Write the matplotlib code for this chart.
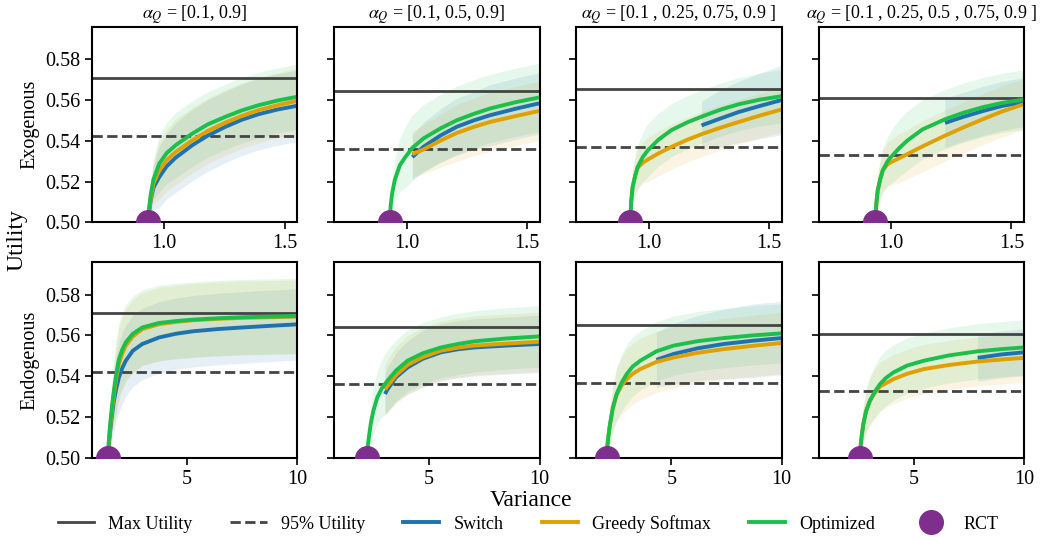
import numpy as np
import matplotlib
matplotlib.use("Agg")
import matplotlib.pyplot as plt
from matplotlib.lines import Line2D

plt.rcParams['font.family'] = ['Liberation Serif', 'DejaVu Serif']
plt.rcParams['mathtext.fontset'] = 'stix'
plt.rcParams['axes.linewidth'] = 1.5
plt.rcParams['xtick.major.width'] = 1.2
plt.rcParams['ytick.major.width'] = 1.2

nan = np.nan

# panel titles (alpha_Q sets)
titles = ["[0.1, 0.9]", "[0.1, 0.5, 0.9]",
          "[0.1 , 0.25, 0.75, 0.9 ]", "[0.1 , 0.25, 0.5 , 0.75, 0.9 ]"]
row_labels = ["Exogenous", "Endogenous"]

# max utility per column (same for both rows), 95% line = 0.95 * max
max_utility = [0.5708, 0.5643, 0.5651, 0.5609]

# RCT point (variance, utility) per panel
rct_exo = [0.934, 0.930, 0.923, 0.935]
rct_endo = [1.43, 2.17, 2.07, 2.57]

# ---------------- Exogenous (top row) ----------------
exo_x = [
    [0.934, 0.938, 0.944, 0.955, 0.979, 1.01, 1.047, 1.116, 1.18, 1.253, 1.32, 1.391, 1.47, 1.55],
    [0.93, 0.934, 0.94, 0.951, 0.972, 0.995, 1.024, 1.07, 1.14, 1.208, 1.28, 1.347, 1.45, 1.55],
    [0.923, 0.927, 0.933, 0.944, 0.954, 0.975, 0.996, 1.04, 1.094, 1.16, 1.219, 1.3, 1.374, 1.46, 1.55],
    [0.935, 0.939, 0.945, 0.955, 0.966, 0.986, 1.0, 1.035, 1.069, 1.13, 1.224, 1.3, 1.38, 1.46, 1.552],
]
exo_opt = [
    [0.500, 0.508, 0.514, 0.521, 0.5288, 0.534, 0.5378, 0.5435, 0.548, 0.5517, 0.5548, 0.5574, 0.5597, 0.5615],
    [0.500, 0.508, 0.514, 0.5206, 0.528, 0.532, 0.5365, 0.5411, 0.546, 0.550, 0.5532, 0.5558, 0.5588, 0.5612],
    [0.500, 0.510, 0.5173, 0.523, 0.5271, 0.532, 0.5353, 0.5405, 0.5452, 0.549, 0.5518, 0.5553, 0.5579, 0.5601, 0.5618],
    [0.500, 0.509, 0.5157, 0.521, 0.5255, 0.530, 0.532, 0.5365, 0.5402, 0.5455, 0.5505, 0.5537, 0.5564, 0.5585, 0.5602],
]
exo_greedy = [
    [0.500, 0.507, 0.512, 0.519, 0.5255, 0.5305, 0.5345, 0.5402, 0.5448, 0.5489, 0.5521, 0.555, 0.5574, 0.5595],
    [nan, nan, nan, nan, nan, nan, 0.5335, 0.5357, 0.540, 0.5438, 0.5468, 0.5492, 0.552, 0.5546],
    [0.500, 0.510, 0.5173, 0.523, 0.5268, 0.5292, 0.5308, 0.5338, 0.537, 0.5405, 0.5432, 0.5465, 0.5492, 0.5523, 0.5553],
    [0.500, 0.509, 0.5157, 0.521, 0.5255, 0.5285, 0.5295, 0.5315, 0.5335, 0.5372, 0.5425, 0.5465, 0.5505, 0.5543, 0.5579],
]
exo_switch = [
    [0.500, 0.506, 0.511, 0.517, 0.5222, 0.5275, 0.5317, 0.5378, 0.5425, 0.5468, 0.5502, 0.553, 0.5553, 0.5571],
    [nan, nan, nan, nan, nan, nan, 0.532, 0.537, 0.5425, 0.5468, 0.550, 0.5525, 0.5556, 0.5583],
    [nan, nan, nan, nan, nan, nan, nan, nan, nan, nan, 0.5475, 0.551, 0.5541, 0.557, 0.5599],
    [nan, nan, nan, nan, nan, nan, nan, nan, nan, nan, 0.5487, 0.5517, 0.5545, 0.557, 0.559],
]
# half-width of the shaded bands
exo_opt_sd = [
    [0, 0.004, 0.007, 0.010, 0.014, 0.015, 0.016, 0.016, 0.016, 0.016, 0.016, 0.016, 0.016, 0.016],
    [0, 0.004, 0.007, 0.010, 0.013, 0.015, 0.016, 0.0165, 0.0167, 0.0167, 0.0167, 0.0167, 0.0167, 0.0167],
    [0, 0.005, 0.008, 0.010, 0.011, 0.012, 0.013, 0.013, 0.013, 0.013, 0.013, 0.013, 0.013, 0.013, 0.013],
    [0, 0.005, 0.008, 0.010, 0.011, 0.012, 0.013, 0.014, 0.0145, 0.0145, 0.0145, 0.0145, 0.0145, 0.0145, 0.0145],
]
exo_greedy_sd = [
    [0, 0.004, 0.007, 0.010, 0.014, 0.015, 0.016, 0.016, 0.016, 0.016, 0.016, 0.016, 0.016, 0.016],
    [nan, nan, nan, nan, nan, nan, 0.011, 0.012, 0.013, 0.014, 0.014, 0.0145, 0.0145, 0.0145],
    [0, 0.005, 0.008, 0.009, 0.010, 0.010, 0.011, 0.011, 0.011, 0.011, 0.011, 0.011, 0.011, 0.011, 0.011],
    [0, 0.005, 0.008, 0.009, 0.010, 0.011, 0.011, 0.012, 0.012, 0.0125, 0.0125, 0.0125, 0.0125, 0.0125, 0.0125],
]
exo_switch_sd = [
    [0, 0.004, 0.008, 0.011, 0.015, 0.016, 0.017, 0.0175, 0.0175, 0.0175, 0.0175, 0.0175, 0.0175, 0.0175],
    [nan, nan, nan, nan, nan, nan, 0.011, 0.012, 0.013, 0.014, 0.014, 0.015, 0.015, 0.015],
    [nan, nan, nan, nan, nan, nan, nan, nan, nan, nan, 0.012, 0.014, 0.015, 0.016, 0.017],
    [nan, nan, nan, nan, nan, nan, nan, nan, nan, nan, 0.012, 0.012, 0.012, 0.012, 0.012],
]

# ---------------- Endogenous (bottom row) ----------------
endo_x = [
    [1.43, 1.46, 1.52, 1.6, 1.69, 1.8, 1.92, 2.07, 2.23, 2.55, 2.98, 3.74, 4.5, 5.26, 6.4, 7.54, 8.8, 10],
    [2.17, 2.22, 2.28, 2.35, 2.47, 2.65, 2.85, 3.0, 3.11, 3.5, 4.02, 4.7, 5.53, 6.3, 7.05, 8.5, 10],
    [2.07, 2.1, 2.15, 2.22, 2.35, 2.52, 2.75, 2.98, 3.25, 3.59, 4.32, 5.1, 6.2, 7.38, 8.7, 10],
    [2.57, 2.6, 2.65, 2.72, 2.85, 3.02, 3.25, 3.48, 3.75, 4.09, 4.7, 5.46, 6.6, 7.9, 9.0, 10],
]
endo_opt = [
    [0.500, 0.508, 0.516, 0.525, 0.5329, 0.541, 0.5484, 0.553, 0.5566, 0.5608, 0.5639, 0.5661, 0.567, 0.5677, 0.5684, 0.5689, 0.5692, 0.5695],
    [0.500, 0.506, 0.511, 0.5165, 0.523, 0.5296, 0.534, 0.5362, 0.5378, 0.5428, 0.5476, 0.5512, 0.5541, 0.5558, 0.5571, 0.5585, 0.5595],
    [0.500, 0.506, 0.511, 0.5165, 0.5245, 0.5313, 0.537, 0.5411, 0.5448, 0.5476, 0.5522, 0.555, 0.5572, 0.5587, 0.560, 0.561],
    [0.500, 0.506, 0.511, 0.5165, 0.523, 0.528, 0.5325, 0.5362, 0.5392, 0.5419, 0.5452, 0.5476, 0.5502, 0.5522, 0.5533, 0.5541],
]
endo_greedy = [
    [0.500, 0.507, 0.515, 0.523, 0.531, 0.539, 0.546, 0.551, 0.555, 0.5595, 0.5631, 0.5655, 0.5666, 0.5674, 0.5681, 0.5686, 0.5689, 0.5692],
    [nan, nan, nan, nan, nan, nan, nan, 0.5335, 0.5352, 0.5405, 0.5455, 0.5493, 0.5525, 0.554, 0.555, 0.556, 0.5569],
    [0.500, 0.506, 0.511, 0.5165, 0.5245, 0.531, 0.5355, 0.5386, 0.5412, 0.5435, 0.547, 0.5492, 0.5515, 0.5533, 0.5549, 0.5563],
    [0.500, 0.506, 0.511, 0.5165, 0.523, 0.528, 0.532, 0.535, 0.5366, 0.5386, 0.5412, 0.5435, 0.5455, 0.5472, 0.5482, 0.549],
]
endo_switch = [
    [0.500, 0.506, 0.513, 0.5205, 0.528, 0.534, 0.5394, 0.544, 0.5476, 0.5525, 0.5558, 0.559, 0.5608, 0.562, 0.5631, 0.5639, 0.5647, 0.5654],
    [nan, nan, nan, nan, nan, nan, nan, 0.5313, 0.5335, 0.5395, 0.5443, 0.5485, 0.5517, 0.5532, 0.5541, 0.555, 0.5558],
    [nan, nan, nan, nan, nan, nan, nan, nan, nan, nan, 0.548, 0.5509, 0.5537, 0.5558, 0.5574, 0.5587],
    [nan, nan, nan, nan, nan, nan, nan, nan, nan, nan, nan, nan, nan, 0.549, 0.5507, 0.5517],
]
endo_opt_sd = [
    [0, 0.004, 0.008, 0.012, 0.015, 0.017, 0.018, 0.0185, 0.0185, 0.0185, 0.0185, 0.0185, 0.0185, 0.0185, 0.0185, 0.0185, 0.0185, 0.0185],
    [0, 0.004, 0.007, 0.009, 0.011, 0.013, 0.014, 0.015, 0.015, 0.015, 0.015, 0.015, 0.015, 0.015, 0.015, 0.015, 0.015],
    [0, 0.004, 0.007, 0.009, 0.011, 0.013, 0.014, 0.0145, 0.0145, 0.0145, 0.0145, 0.0145, 0.0145, 0.0145, 0.0145, 0.0145],
    [0, 0.004, 0.007, 0.009, 0.011, 0.012, 0.013, 0.0135, 0.0135, 0.0135, 0.0135, 0.0135, 0.0135, 0.0135, 0.0135, 0.0135],
]
endo_greedy_sd = [
    [0, 0.004, 0.008, 0.012, 0.015, 0.017, 0.018, 0.018, 0.018, 0.018, 0.018, 0.018, 0.018, 0.018, 0.018, 0.018, 0.018, 0.018],
    [nan, nan, nan, nan, nan, nan, nan, 0.012, 0.013, 0.014, 0.0145, 0.0145, 0.0145, 0.0145, 0.0145, 0.0145, 0.0145],
    [0, 0.004, 0.007, 0.009, 0.011, 0.013, 0.014, 0.015, 0.015, 0.015, 0.015, 0.015, 0.015, 0.015, 0.015, 0.015],
    [0, 0.004, 0.007, 0.009, 0.010, 0.011, 0.012, 0.012, 0.012, 0.012, 0.012, 0.012, 0.012, 0.012, 0.012, 0.012],
]
endo_switch_sd = [
    [0, 0.004, 0.008, 0.012, 0.015, 0.016, 0.017, 0.0175, 0.0175, 0.0175, 0.0175, 0.0175, 0.0175, 0.0175, 0.0175, 0.0175, 0.0175, 0.0175],
    [nan, nan, nan, nan, nan, nan, nan, 0.010, 0.011, 0.012, 0.013, 0.014, 0.014, 0.014, 0.014, 0.014, 0.014],
    [nan, nan, nan, nan, nan, nan, nan, nan, nan, nan, 0.0135, 0.015, 0.016, 0.017, 0.018, 0.018],
    [nan, nan, nan, nan, nan, nan, nan, nan, nan, nan, nan, nan, nan, 0.0115, 0.0115, 0.0115],
]

c_switch = "#1f72b0"
c_greedy = "#dfa000"
c_opt = "#1dbf4c"
c_rct = "#7e2f8e"
c_line = "#444444"

fig, axes = plt.subplots(2, 4, figsize=(10.42, 5.4), dpi=100)
fig.subplots_adjust(left=0.0883, right=0.9827, top=0.95, bottom=0.152,
                    wspace=0.18, hspace=0.205)

rows = [
    (exo_x, exo_switch, exo_greedy, exo_opt, exo_switch_sd, exo_greedy_sd, exo_opt_sd, rct_exo),
    (endo_x, endo_switch, endo_greedy, endo_opt, endo_switch_sd, endo_greedy_sd, endo_opt_sd, rct_endo),
]

for r, (xs, sw, gr, op, sw_sd, gr_sd, op_sd, rct) in enumerate(rows):
    for c in range(4):
        ax = axes[r, c]
        x = np.array(xs[c])
        mu = max_utility[c]
        ax.axhline(mu, color=c_line, lw=2)
        ax.axhline(0.95 * mu, color=c_line, lw=2, ls="--")

        for ys, sds, col in [(sw[c], sw_sd[c], c_switch),
                             (gr[c], gr_sd[c], c_greedy),
                             (op[c], op_sd[c], c_opt)]:
            y = np.array(ys)
            sd = np.array(sds)
            ok = ~np.isnan(y)
            ax.fill_between(x[ok], y[ok] - sd[ok], y[ok] + sd[ok],
                            color=col, alpha=0.11, lw=0)
            ax.plot(x[ok], y[ok], color=col, lw=2.8, solid_capstyle="butt")

        ax.plot(rct[c], 0.5, "o", color=c_rct, ms=17, zorder=5)

        ax.set_ylim(0.5, 0.5957)
        ax.set_yticks([0.50, 0.52, 0.54, 0.56, 0.58])
        if r == 0:
            ax.set_xlim(0.70, 1.552)
            ax.set_xticks([1.0, 1.5])
            ax.set_xticklabels(["1.0", "1.5"])
            ax.set_title(r"$\alpha_Q$ = " + titles[c], fontsize=13, pad=6)
        else:
            ax.set_xlim(0.70, 10)
            ax.set_xticks([5, 10])
        if c == 0:
            ax.set_yticklabels(["0.50", "0.52", "0.54", "0.56", "0.58"])
            ax.set_ylabel(row_labels[r], fontsize=14.5)
        else:
            ax.set_yticklabels([])
        ax.tick_params(labelsize=14.5, length=5)

fig.text(0.016, 0.555, "Utility", rotation=90, va="center", ha="center", fontsize=17)
fig.text(0.51, 0.073, "Variance", va="center", ha="center", fontsize=17)

handles = [
    Line2D([], [], color=c_line, lw=2),
    Line2D([], [], color=c_line, lw=2, ls="--"),
    Line2D([], [], color=c_switch, lw=2.8),
    Line2D([], [], color=c_greedy, lw=2.8),
    Line2D([], [], color=c_opt, lw=2.8),
    Line2D([], [], color=c_rct, marker="o", ls="", ms=17),
]
labels = ["Max Utility", "95% Utility", "Switch", "Greedy Softmax", "Optimized", "RCT"]
fig.legend(handles, labels, loc="center", bbox_to_anchor=(0.507, 0.03), ncol=6,
           frameon=False, fontsize=13, handlelength=2.0, columnspacing=2.1)

fig.savefig("out.png", dpi=100)
